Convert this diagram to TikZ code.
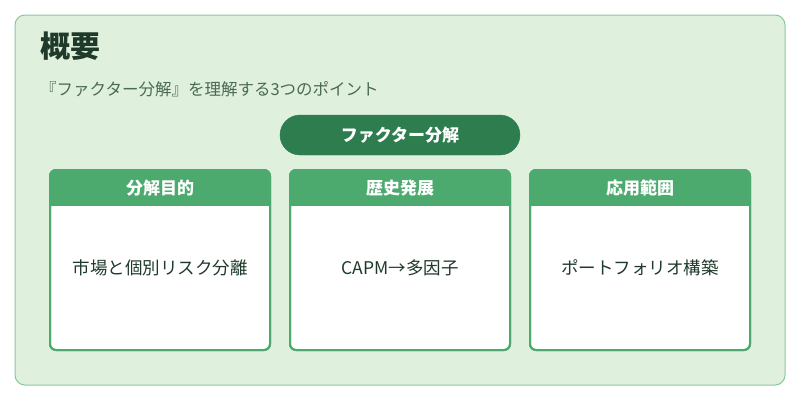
\documentclass[tikz,border=0pt]{standalone}
\usepackage{fontspec}
\setmainfont{Noto Sans CJK JP}
\definecolor{bgpanel}{HTML}{DFF0DC}
\definecolor{panelline}{HTML}{8CC79A}
\definecolor{pillgreen}{HTML}{2E7D4F}
\definecolor{cardgreen}{HTML}{4DAA6E}
\definecolor{titletext}{HTML}{1F3A2B}
\definecolor{subtext}{HTML}{4A6A55}
\begin{document}
\begin{tikzpicture}[x=1pt,y=-1pt,
  card/.style={draw=cardgreen,line width=2pt,fill=white,rounded corners=6pt},
  head/.style={font=\fontsize{17}{20}\selectfont\bfseries,text=white},
  body/.style={font=\fontsize{17.5}{20}\selectfont,text=titletext}]
  \useasboundingbox (0,0) rectangle (800,400);
  \draw[fill=bgpanel,draw=panelline,line width=1pt,rounded corners=10pt] (15,15) rectangle (785,385);
  \node[anchor=west,font=\fontsize{30}{34}\selectfont\bfseries,text=titletext,inner sep=0pt] (title) at (40,46) {概要};
  \node[anchor=west,font=\fontsize{16.5}{19}\selectfont,text=subtext,inner sep=0pt] (sub) at (40,89) {『ファクター分解』を理解する3つのポイント};
  \draw[fill=pillgreen,draw=pillgreen,rounded corners=20pt] (280,115) rectangle (520,155);
  \node[font=\fontsize{17}{20}\selectfont\bfseries,text=white] (pill) at (400,135) {ファクター分解};
  \foreach \x/\h/\b/\n in {50/分解目的/市場と個別リスク分離/a,290/歴史発展/CAPM→多因子/b,530/応用範囲/ポートフォリオ構築/c} {
    \draw[card] (\x,170) rectangle (\x+220,350);
    \begin{scope}
      \clip[rounded corners=6pt] (\x,170) rectangle (\x+220,350);
      \fill[cardgreen] (\x,170) rectangle (\x+220,206);
    \end{scope}
    \draw[cardgreen,line width=2pt,rounded corners=6pt] (\x,170) rectangle (\x+220,350);
    \node[head] (head\n) at (\x+110,188) {\h};
    \node[body] (body\n) at (\x+110,268) {\b};
  }
\end{tikzpicture}
\end{document}
